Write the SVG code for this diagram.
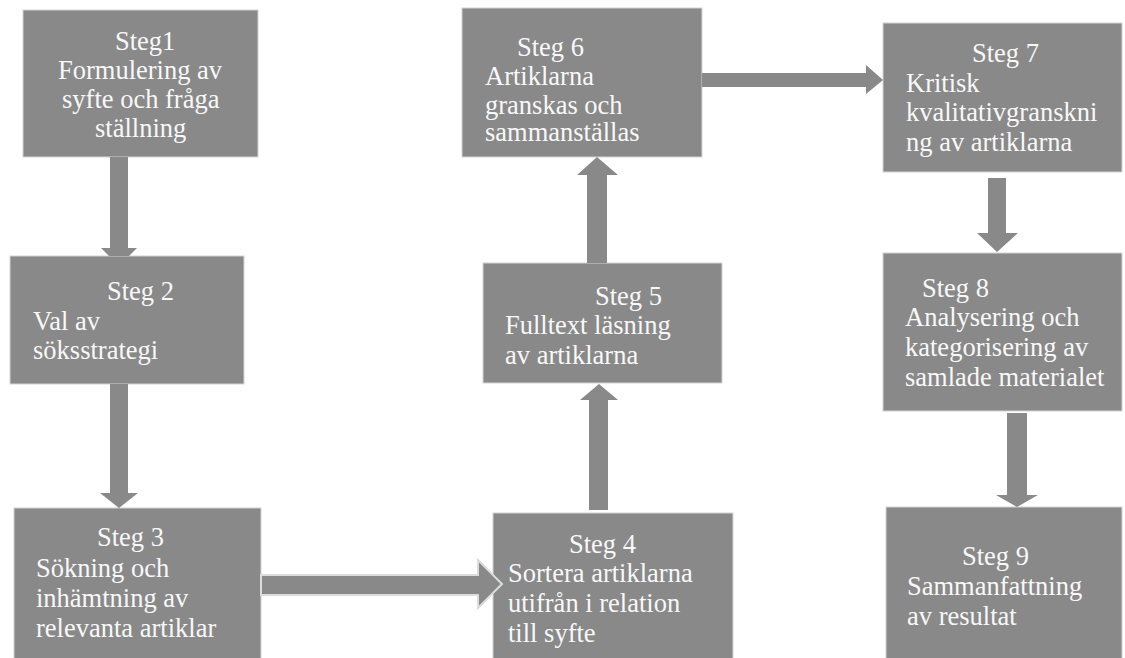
<svg xmlns="http://www.w3.org/2000/svg" width="1125" height="658" viewBox="0 0 1125 658">
<style>
.box{fill:#898989;stroke:#d4d4d4;stroke-width:1}
.t{font-family:'Liberation Serif','Tinos','Times New Roman','DejaVu Serif',serif;font-size:26.5px;fill:#f8f8f8}
.arr{fill:#898989}
.arr2{fill:#898989;stroke:#dcdcdc;stroke-width:2}
</style>
<rect width="1125" height="658" fill="#ffffff"/>
<g id="steg1"><rect class="box" x="23" y="10" width="235" height="147"/>
<text class="t" font-family="Liberation Serif"><tspan x="115" y="50">Steg1</tspan><tspan x="58" y="79">Formulering av</tspan><tspan x="62" y="108">syfte och fråga</tspan><tspan x="95" y="137">ställning</tspan></text></g>
<g id="steg2"><rect class="box" x="10" y="256" width="234" height="128"/>
<text class="t" font-family="Liberation Serif"><tspan x="107" y="300">Steg 2</tspan><tspan x="33" y="330">Val av</tspan><tspan x="33" y="359">söksstrategi</tspan></text></g>
<g id="steg3"><rect class="box" x="14" y="508" width="247" height="152"/>
<text class="t" font-family="Liberation Serif"><tspan x="97" y="546">Steg 3</tspan><tspan x="36" y="577">Sökning och</tspan><tspan x="36" y="607">inhämtning av</tspan><tspan x="36" y="637">relevanta artiklar</tspan></text></g>
<g id="steg4"><rect class="box" x="493" y="513" width="240" height="147"/>
<text class="t" font-family="Liberation Serif"><tspan x="569" y="553">Steg 4</tspan><tspan x="508" y="582">Sortera artiklarna</tspan><tspan x="508" y="612">utifrån i relation</tspan><tspan x="508" y="642">till syfte</tspan></text></g>
<g id="steg5"><rect class="box" x="483" y="263" width="239" height="120"/>
<text class="t" font-family="Liberation Serif"><tspan x="595" y="305">Steg 5</tspan><tspan x="505" y="334">Fulltext läsning</tspan><tspan x="505" y="364">av artiklarna</tspan></text></g>
<g id="steg6"><rect class="box" x="462" y="8" width="240" height="149"/>
<text class="t" font-family="Liberation Serif"><tspan x="517" y="56">Steg 6</tspan><tspan x="485" y="85">Artiklarna</tspan><tspan x="485" y="114">granskas och</tspan><tspan x="485" y="141">sammanställas</tspan></text></g>
<g id="steg7"><rect class="box" x="883" y="23" width="239" height="149"/>
<text class="t" font-family="Liberation Serif"><tspan x="972" y="62">Steg 7</tspan><tspan x="906" y="92">Kritisk</tspan><tspan x="906" y="121">kvalitativgranskni</tspan><tspan x="906" y="151">ng av artiklarna</tspan></text></g>
<g id="steg8"><rect class="box" x="883" y="253" width="239" height="158"/>
<text class="t" font-family="Liberation Serif"><tspan x="922" y="297">Steg 8</tspan><tspan x="905" y="326">Analysering och</tspan><tspan x="905" y="356">kategorisering av</tspan><tspan x="905" y="386">samlade materialet</tspan></text></g>
<g id="steg9"><rect class="box" x="886" y="507" width="236" height="153"/>
<text class="t" font-family="Liberation Serif"><tspan x="962" y="565">Steg 9</tspan><tspan x="907" y="595">Sammanfattning</tspan><tspan x="907" y="625">av resultat</tspan></text></g>
<g id="connectors">
<polygon class="arr" points="110,157 128,157 128,248 137,248 129,256 109,256 101,248 110,248"/>
<polygon class="arr" points="110,384 128,384 128,493 138,493 119,508 100,493 110,493"/>
<polygon class="arr2" points="261,575 478,575 478,560 502,584 478,608 478,595 261,595"/>
<polygon class="arr" points="589,510 608,510 608,400 618,400 599,384 580,400 589,400"/>
<polygon class="arr" points="587,263 607,263 607,175 618,175 597,157 577,175 587,175"/>
<polygon class="arr" points="702,73 866,73 866,65 883,80 866,94 866,87 702,87"/>
<polygon class="arr" points="988,178 1006,178 1006,233 1018,233 997,252 977,233 988,233"/>
<polygon class="arr" points="1007,413 1027,413 1027,495 1038,495 1017,507 996,495 1007,495"/>
</g>
</svg>
